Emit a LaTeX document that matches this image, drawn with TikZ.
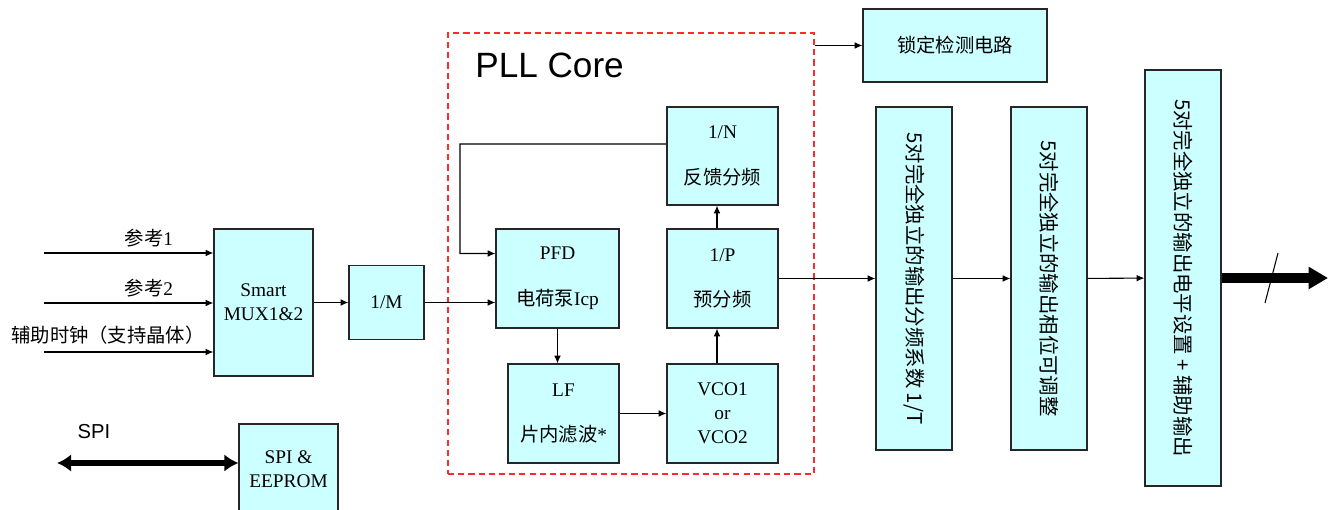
\documentclass[tikz,border=0pt]{standalone}
\usepackage{fontspec}
\setmainfont{Liberation Serif}
\newfontfamily\cjk{Noto Sans CJK SC}
\newfontfamily\arial{Liberation Sans}
\newcommand\zh[1]{{\cjk #1}}
\usepackage{tikz}
\usetikzlibrary{arrows.meta,fit}
\definecolor{boxfill}{HTML}{CCFFFF}
\definecolor{corered}{HTML}{FF2A2A}
\tikzset{
  blk/.style={draw=black!85,fill=boxfill,line width=0.7pt,align=center,inner sep=2pt},
  twoline/.style={font=\fontsize{11}{26}\selectfont},
  vtext/.style={rotate=-90,inner sep=0pt,font=\cjk\fontsize{11.6}{13}\selectfont},
  corebox/.style={draw=corered,dash pattern=on 3.5pt off 2.3pt,line width=0.9pt,inner sep=0pt},
  wire/.style={line width=0.6pt,-{Latex[length=4.4pt,width=3.8pt]}},
}

\begin{document}
\begin{tikzpicture}[x=0.02cm,y=-0.02cm,font=\fontsize{11}{13.6}\selectfont]
  \useasboundingbox (0,0) rectangle (1332,510);
  % inputs and reference mux
  \node[blk,minimum width=1.98cm,minimum height=2.94cm] (mux) at (263.5,302.5) {Smart\\MUX1\&2};
  \node[blk,minimum width=1.50cm,minimum height=1.48cm] (divm) at (386.5,302.5) {1/M};
  \node[blk,minimum width=1.98cm,minimum height=1.80cm] (spi) at (288.5,469) {SPI \&\\EEPROM};
  \coordinate (in1) at (44,253);
  \coordinate (in2) at (44,303);
  \coordinate (in3) at (44,352);
  \draw[wire] (in1) -- (in1 -| mux.west);
  \draw[wire] (in2) -- (in2 -| mux.west);
  \draw[wire] (in3) -- (in3 -| mux.west);
  \node (ref1) at (149,238) {\zh{参考}1};
  \node (ref2) at (149,288) {\zh{参考}2};
  \node (aux) at (108,335) {\zh{辅助时钟（支持晶体）}};
  \node[font=\arial\fontsize{11.5}{13}\selectfont] (spilbl) at (94,432) {SPI};
  \coordinate (spiend) at (57,463);
  \draw[line width=3pt,{Latex[length=8pt,width=10pt]}-{Latex[length=8pt,width=10pt]}] (spiend) -- (spi.west |- spiend);
  \draw[wire] (mux) -- (divm);
  % PLL core
  \coordinate (coreNW) at (448,33);
  \coordinate (coreSE) at (814,474);
  \node[corebox,fit=(coreNW)(coreSE)] (core) {};
  \node[anchor=west,inner sep=0pt,font=\arial\fontsize{20}{24}\selectfont] (coretitle) at (475,65) {PLL Core};
  \node[blk,twoline,minimum width=2.22cm,minimum height=1.96cm] (divn) at (722.5,156) {1/N\\\zh{反馈分频}};
  \node[blk,twoline,minimum width=2.46cm,minimum height=1.98cm] (pfd) at (557.5,278.5) {PFD\\\zh{电荷泵}Icp};
  \node[blk,twoline,minimum width=2.22cm,minimum height=1.98cm] (divp) at (722.5,278.5) {1/P\\\zh{预分频}};
  \node[blk,twoline,minimum width=2.22cm,minimum height=1.98cm] (lf) at (563.5,413.5) {LF\\\zh{片内滤波}*};
  \node[blk,minimum width=2.22cm,minimum height=1.98cm] (vco) at (722.5,413.5) {VCO1\\or\\VCO2};
  \coordinate (fbturn) at (460,144);
  \draw[wire] (divm) -- (divm -| pfd.west);
  \draw[wire] ([yshift=0.24cm]divn.west) -- (fbturn) |- ([yshift=0.5cm]pfd.west);
  \draw[wire] (pfd.south) -- (pfd.south |- lf.north);
  \draw[wire] (lf) -- (vco);
  \draw[wire] ([xshift=-0.11cm]vco.north) -- ([xshift=-0.11cm]divp.south);
  \draw[wire] ([xshift=-0.11cm]divp.north) -- ([xshift=-0.11cm]divn.south);
  % lock detect and outputs
  \node[blk,minimum width=3.68cm,minimum height=1.46cm] (lock) at (955,45.5) {\zh{锁定检测电路}};
  \node[blk,minimum width=1.52cm,minimum height=6.86cm] (outdiv) at (914,278.5) {};
  \node[blk,minimum width=1.52cm,minimum height=6.86cm] (outphase) at (1049,278.5) {};
  \node[blk,minimum width=1.52cm,minimum height=8.32cm] (outlevel) at (1183,278) {};
  \node[vtext] (outdivtxt) at (outdiv) {5对完全独立的输出分频系数 1/T};
  \node[vtext] (outphasetxt) at (outphase) {5对完全独立的输出相位可调整};
  \node[vtext] (outleveltxt) at (outlevel) {5对完全独立的输出电平设置 + 辅助输出};
  \draw[wire] (lock -| core.east) -- (lock);
  \draw[wire] (divp) -- (outdiv);
  \draw[wire] (outdiv) -- (outphase);
  \draw[wire] (outphase) -- (outlevel);
  \coordinate (outend) at (1328,278);
  \draw[line width=5.5pt,-{Triangle[length=11pt,width=12pt]}] (outlevel) -- (outend);
  \draw[line width=0.6pt] (1265,303) -- (1278,253);
\end{tikzpicture}
\end{document}
